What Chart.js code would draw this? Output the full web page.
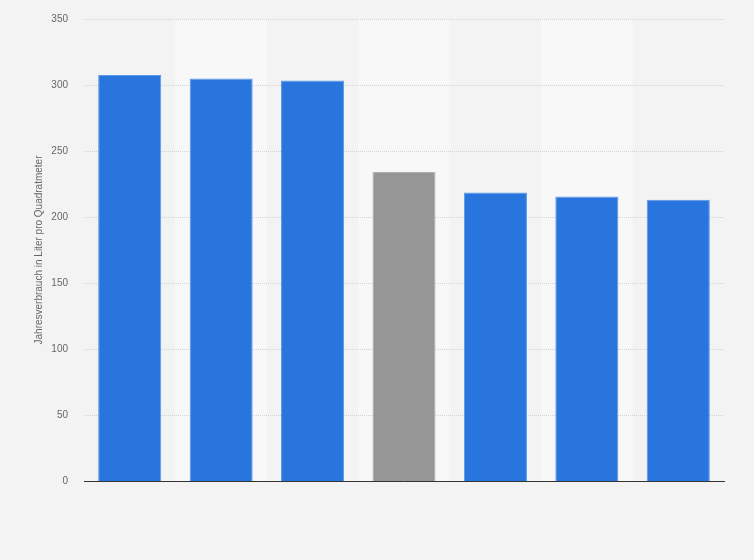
<!DOCTYPE html>
<html>
<head>
<meta charset="utf-8">
<script src="https://cdn.jsdelivr.net/npm/chart.js@4/dist/chart.umd.min.js"></script>
<style>
  html, body { margin: 0; padding: 0; background: #f3f3f3; }
  #wrap { width: 754px; height: 560px; }
</style>
</head>
<body>
<div id="wrap"><canvas id="chart"></canvas></div>
<script>
// Data (no category labels are shown)
const categories = ["1", "2", "3", "4", "5", "6", "7"];
const values = [307.5, 305, 303.5, 234, 218.5, 215.5, 213];
const barColors = ["#2876dd", "#2876dd", "#2876dd", "#969696", "#2876dd", "#2876dd", "#2876dd"];
const borderColors = ["#5b98e8", "#5b98e8", "#5b98e8", "#b0b0b0", "#5b98e8", "#5b98e8", "#5b98e8"];
const yTicks = [0, 50, 100, 150, 200, 250, 300, 350];
const yTitle = "Jahresverbrauch in Liter pro Quadratmeter";

// lighter background bands behind every second category
const bandPlugin = {
  id: "bands",
  beforeDatasetsDraw(chart) {
    const { ctx, chartArea, scales } = chart;
    const x = scales.x;
    const step = x.width / categories.length;
    ctx.save();
    ctx.fillStyle = "#f8f8f8";
    for (let i = 1; i < categories.length; i += 2) {
      const cx = x.getPixelForValue(i);
      ctx.fillRect(cx - step / 2, chartArea.top, step, chartArea.bottom - chartArea.top);
    }
    ctx.restore();
  }
};

// dotted grid drawn over the bands
const gridOnTop = {
  id: "gridOnTop",
  beforeDatasetsDraw(chart) {
    const { ctx, chartArea, scales } = chart;
    ctx.save();
    ctx.strokeStyle = "#d2d2d2";
    ctx.lineWidth = 1;
    ctx.setLineDash([1, 1]);
    for (const t of yTicks) {
      if (t === 0) continue;
      const y = Math.round(scales.y.getPixelForValue(t)) + 0.5;
      ctx.beginPath();
      ctx.moveTo(chartArea.left, y);
      ctx.lineTo(chartArea.right, y);
      ctx.stroke();
    }
    ctx.restore();
  }
};

new Chart(document.getElementById("chart"), {
  type: "bar",
  plugins: [bandPlugin, gridOnTop],
  data: {
    labels: categories,
    datasets: [{
      data: values,
      backgroundColor: barColors,
      borderColor: borderColors,
      borderWidth: 1,
      categoryPercentage: 1,
      barPercentage: 0.69
    }]
  },
  options: {
    responsive: true,
    maintainAspectRatio: false,
    animation: false,
    layout: { padding: { top: 19, right: 30, left: 33, bottom: 0 } },
    plugins: {
      legend: { display: false },
      tooltip: { enabled: false }
    },
    scales: {
      x: {
        grid: { display: false },
        border: { display: true, color: "#333333", width: 1 },
        ticks: { display: false },
        afterFit(scale) { scale.height = 79; }
      },
      y: {
        min: 0,
        max: 350,
        afterBuildTicks(scale) { scale.ticks = yTicks.map(v => ({ value: v })); },
        grid: { display: false, drawTicks: true, tickLength: 16 },
        border: { display: false },
        ticks: {
          color: "#666666",
          font: { family: "Arial, 'Liberation Sans', sans-serif", size: 10 },
          padding: 0
        },
        title: {
          display: true,
          text: yTitle,
          color: "#666666",
          font: { family: "Arial, 'Liberation Sans', sans-serif", size: 10 },
          padding: { top: 0, bottom: 0 }
        },
        afterFit(scale) { scale.width = 51; }
      }
    }
  }
});
</script>
</body>
</html>
